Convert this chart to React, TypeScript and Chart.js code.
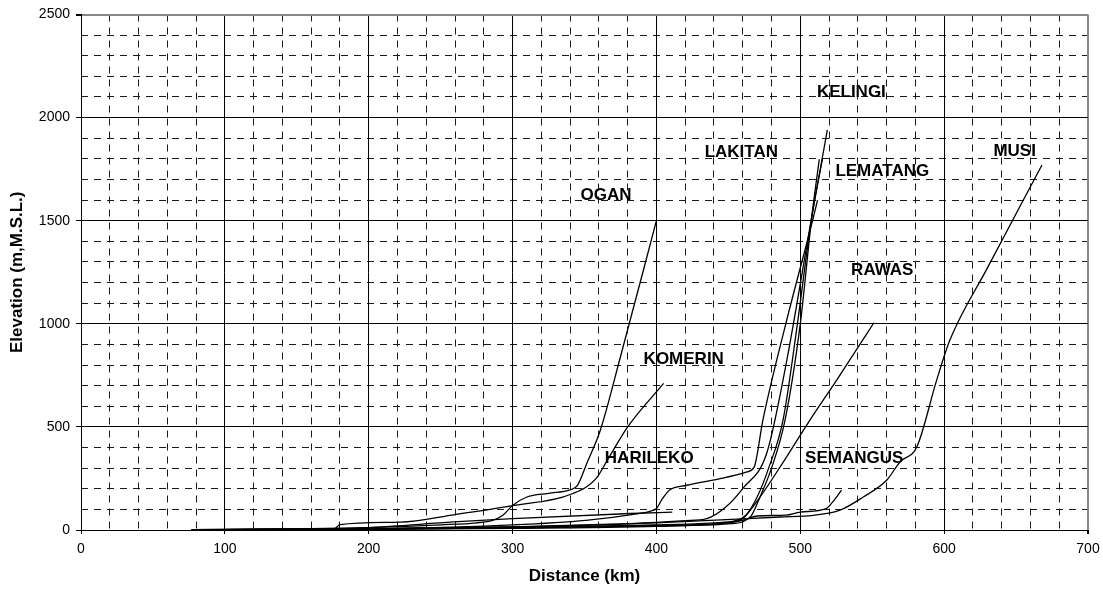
import React, { useEffect, useRef } from 'react';
import { Chart, registerables } from 'chart.js';

Chart.register(...registerables);

// Axis ranges and ticks
const X_MIN = 0;
const X_MAX = 700;
const X_MAJOR = 100;
const X_MINOR = 20;
const Y_MIN = 0;
const Y_MAX = 2500;
const Y_MAJOR = 500;
const Y_MINOR = 100;

// River profiles (distance km, elevation m)
const OGAN_X = [77, 150, 200, 250, 275, 286, 293, 300, 310, 325, 340, 345, 352, 361, 375, 400];
const OGAN_Y = [2, 5, 12, 25, 35, 47, 70, 119, 160, 178, 195, 215, 330, 484, 840, 1500];

const KOMERIN_X = [77, 150, 176, 180, 222, 260, 300, 342, 358, 366, 380, 405];
const KOMERIN_Y = [2, 4, 6, 26, 38, 75, 118, 177, 249, 340, 500, 711];

const HARILEKO_X = [77, 150, 200, 259, 300, 382, 411];
const HARILEKO_Y = [1, 3, 12, 39, 55, 80, 87];

const LEMATANG_X = [77, 200, 300, 351, 384, 396, 400, 404, 409, 421, 445, 463, 468, 474, 490, 508.6, 512];
const LEMATANG_Y = [1, 5, 25, 47, 76, 92, 104, 150, 193, 217, 250, 282, 306, 533, 1002, 1503, 1600];

const KELINGI_X = [77, 200, 300, 380, 420, 435, 448, 460, 476.6, 490, 508, 518.8];
const KELINGI_Y = [1, 6, 15, 30, 45, 55, 110, 201, 371, 800, 1520, 1940];

const LAKITAN_X = [77, 200, 300, 400, 440, 455, 462, 470, 478, 488, 498, 508, 515.5];
const LAKITAN_Y = [1, 5, 12, 25, 35, 45, 70, 160, 300, 533, 1000, 1520, 1803];

const BRANCH_X = [77, 200, 300, 400, 450, 460, 466, 472, 480, 489.4, 500, 508, 513.2];
const BRANCH_Y = [1, 4, 10, 20, 30, 40, 70, 160, 300, 533, 1000, 1520, 1798];

const RAWAS_X = [77, 200, 300, 400, 440, 452, 460, 470, 486, 506.7, 525.3, 551.2];
const RAWAS_Y = [1, 3, 8, 18, 28, 38, 55, 140, 306, 533, 727, 1005];

const MUSI_X = [77, 200, 300, 400, 486, 509, 527.6, 543.8, 560, 569.3, 581, 594.8, 604, 630, 668];
const MUSI_Y = [1, 6, 15, 35, 63, 71, 96, 160, 241, 330, 403, 727, 921, 1270, 1770];

const SEMANGUS_X = [77, 200, 300, 400, 450, 460, 470, 490, 500, 518, 523, 528.7];
const SEMANGUS_Y = [1, 4, 10, 22, 35, 47, 68, 72, 87, 104, 140, 193];

const SERIES: [string, number[], number[]][] = [
  ['OGAN', OGAN_X, OGAN_Y],
  ['KOMERIN', KOMERIN_X, KOMERIN_Y],
  ['HARILEKO', HARILEKO_X, HARILEKO_Y],
  ['LEMATANG', LEMATANG_X, LEMATANG_Y],
  ['KELINGI', KELINGI_X, KELINGI_Y],
  ['LAKITAN', LAKITAN_X, LAKITAN_Y],
  ['BRANCH', BRANCH_X, BRANCH_Y],
  ['RAWAS', RAWAS_X, RAWAS_Y],
  ['MUSI', MUSI_X, MUSI_Y],
  ['SEMANGUS', SEMANGUS_X, SEMANGUS_Y],
];

// In-plot river name labels (data coordinates of text centre)
const LABEL_TEXT = ['OGAN', 'KOMERIN', 'HARILEKO', 'LAKITAN', 'KELINGI', 'LEMATANG', 'MUSI', 'RAWAS', 'SEMANGUS'];
const LABEL_X = [365, 419, 395, 459, 535.5, 557, 649, 557, 537.5];
const LABEL_Y = [1625, 829, 348, 1830, 2125, 1738, 1838, 1257, 348];

const FONT = '"Liberation Sans", Arial, sans-serif';

const labelPlugin = {
  id: 'riverLabels',
  afterDatasetsDraw(chart: any) {
    const { ctx, scales } = chart;
    const xs = scales.x;
    const ys = scales.y;
    ctx.save();
    ctx.fillStyle = '#000';
    ctx.font = `bold 17px ${FONT}`;
    ctx.textAlign = 'center';
    ctx.textBaseline = 'middle';
    LABEL_TEXT.forEach((t, i) => {
      ctx.fillText(t, xs.getPixelForValue(LABEL_X[i]), ys.getPixelForValue(LABEL_Y[i]));
    });
    ctx.restore();
  },
};

export default function App() {
  const ref = useRef<HTMLCanvasElement | null>(null);

  useEffect(() => {
    document.body.style.margin = '0';
    const canvas = ref.current;
    if (!canvas) return;
    const datasets = SERIES.map(([name, xs, ys]) => ({
      label: name,
      data: xs.map((x, i) => ({ x, y: ys[i] })),
      borderColor: '#000',
      borderWidth: 1.3,
      pointRadius: 0,
      fill: false,
      cubicInterpolationMode: 'monotone' as const,
    }));

    const chart = new Chart(canvas, {
      type: 'line',
      data: { datasets },
      plugins: [labelPlugin],
      options: {
        animation: false,
        responsive: false,
        devicePixelRatio: 1,
        parsing: false as any,
        layout: { padding: { top: 14.5, right: 15, bottom: 0, left: 0 } },
        plugins: {
          legend: { display: false },
          tooltip: { enabled: false },
        },
        scales: {
          xMinor: {
            type: 'linear',
            position: 'bottom',
            min: X_MIN,
            max: X_MAX,
            ticks: { display: false, stepSize: X_MINOR },
            grid: {
              drawTicks: false,
              color: (c: any) => (c.tick && c.tick.value % X_MAJOR === 0 ? 'rgba(0,0,0,0)' : '#1a1a1a'),
              lineWidth: 1,
            },
            border: { display: false, dash: [7, 6] },
            afterFit: (s: any) => {
              s.height = 0;
              s.paddingLeft = 0;
              s.paddingRight = 0;
            },
          },
          yMinor: {
            type: 'linear',
            position: 'left',
            min: Y_MIN,
            max: Y_MAX,
            ticks: { display: false, stepSize: Y_MINOR },
            grid: {
              drawTicks: false,
              color: (c: any) => (c.tick && c.tick.value % Y_MAJOR === 0 ? 'rgba(0,0,0,0)' : '#1a1a1a'),
              lineWidth: 1,
            },
            border: { display: false, dash: [7, 6] },
            afterFit: (s: any) => {
              s.width = 0;
              s.paddingTop = 0;
              s.paddingBottom = 0;
            },
          },
          x: {
            type: 'linear',
            position: 'bottom',
            min: X_MIN,
            max: X_MAX,
            ticks: {
              stepSize: X_MAJOR,
              color: '#000',
              padding: 7,
              font: { family: FONT, size: 14 },
              callback: (v: any) => String(v),
            },
            grid: {
              color: (c: any) => (c.tick && c.tick.value === X_MAX ? '#888' : '#000'),
              lineWidth: (c: any) => (c.tick && c.tick.value === X_MAX ? 2 : 1),
              tickLength: 4,
              tickColor: '#000',
            },
            border: { display: true, color: '#000', width: 1 },
            title: {
              display: true,
              text: 'Distance (km)',
              color: '#000',
              font: { family: FONT, size: 17, weight: 'bold' },
              padding: { top: 0, bottom: 5 },
            },
            afterFit: (s: any) => {
              s.height = 62;
              s.paddingLeft = 0;
              s.paddingRight = 0;
            },
          },
          y: {
            type: 'linear',
            position: 'left',
            min: Y_MIN,
            max: Y_MAX,
            ticks: {
              stepSize: Y_MAJOR,
              color: '#000',
              padding: 6,
              font: { family: FONT, size: 14 },
              callback: (v: any) => String(v),
            },
            grid: {
              color: (c: any) => (c.tick && c.tick.value === Y_MAX ? '#888' : '#000'),
              lineWidth: (c: any) => (c.tick && c.tick.value === Y_MAX ? 2 : 1),
              tickLength: 5,
              tickColor: '#000',
            },
            border: { display: true, color: '#000', width: 1 },
            title: {
              display: true,
              text: 'Elevation (m,M.S.L.)',
              color: '#000',
              font: { family: FONT, size: 17, weight: 'bold' },
              padding: { top: 7, bottom: 0 },
            },
            afterFit: (s: any) => {
              s.width = 81;
              s.paddingTop = 0;
              s.paddingBottom = 0;
            },
          },
        },
      },
    });
    return () => chart.destroy();
  }, []);

  return (
    <div style={{ position: 'absolute', left: 0, top: 0, width: 1103, height: 592 }}>
      <canvas ref={ref} width={1103} height={592} style={{ width: 1103, height: 592 }} />
    </div>
  );
}
